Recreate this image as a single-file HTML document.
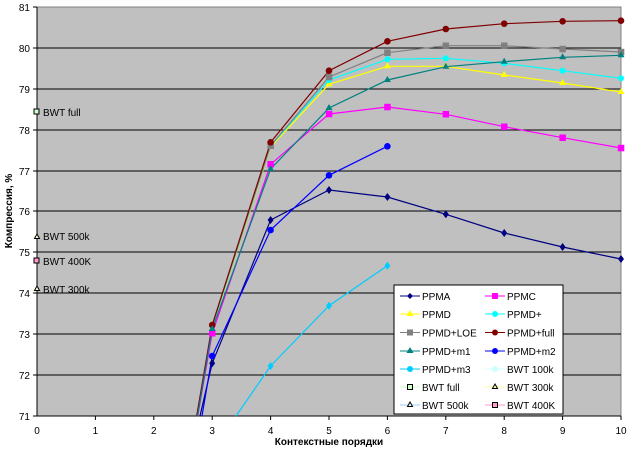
<!DOCTYPE html>
<html><head><meta charset="utf-8"><style>
body{margin:0;background:#fff;}
svg{display:block;font-family:"Liberation Sans",Arial,sans-serif;}
</style></head><body>
<svg width="632" height="449" viewBox="0 0 632 449">
<rect x="37" y="7" width="584" height="409" fill="#c0c0c0" stroke="#808080"/>
<g stroke="#000" stroke-width="1">
<line x1="37" y1="48" x2="621" y2="48"/><line x1="37" y1="89" x2="621" y2="89"/>
<line x1="37" y1="130" x2="621" y2="130"/><line x1="37" y1="171" x2="621" y2="171"/>
<line x1="37" y1="211" x2="621" y2="211"/><line x1="37" y1="252" x2="621" y2="252"/>
<line x1="37" y1="293" x2="621" y2="293"/><line x1="37" y1="334" x2="621" y2="334"/>
<line x1="37" y1="375" x2="621" y2="375"/>
<line x1="37" y1="7" x2="37" y2="416"/><line x1="37" y1="416" x2="621" y2="416"/>
</g>
<g stroke="#000"><line x1="33" y1="7" x2="37" y2="7"/><line x1="33" y1="48" x2="37" y2="48"/><line x1="33" y1="89" x2="37" y2="89"/><line x1="33" y1="130" x2="37" y2="130"/><line x1="33" y1="171" x2="37" y2="171"/><line x1="33" y1="211" x2="37" y2="211"/><line x1="33" y1="252" x2="37" y2="252"/><line x1="33" y1="293" x2="37" y2="293"/><line x1="33" y1="334" x2="37" y2="334"/><line x1="33" y1="375" x2="37" y2="375"/><line x1="33" y1="416" x2="37" y2="416"/>
<line x1="95.4" y1="416" x2="95.4" y2="420"/><line x1="153.8" y1="416" x2="153.8" y2="420"/><line x1="212.2" y1="416" x2="212.2" y2="420"/><line x1="270.6" y1="416" x2="270.6" y2="420"/><line x1="329" y1="416" x2="329" y2="420"/><line x1="387.4" y1="416" x2="387.4" y2="420"/><line x1="445.8" y1="416" x2="445.8" y2="420"/><line x1="504.2" y1="416" x2="504.2" y2="420"/><line x1="562.6" y1="416" x2="562.6" y2="420"/><line x1="621" y1="416" x2="621" y2="420"/></g>
<g font-size="10" text-anchor="end">
<text x="30" y="11">81</text><text x="30" y="52">80</text><text x="30" y="93">79</text><text x="30" y="134">78</text><text x="30" y="175">77</text><text x="30" y="215">76</text><text x="30" y="256">75</text><text x="30" y="297">74</text><text x="30" y="338">73</text><text x="30" y="379">72</text><text x="30" y="420">71</text>
</g>
<g font-size="10" text-anchor="middle">
<text x="37" y="434">0</text><text x="95.4" y="434">1</text><text x="153.8" y="434">2</text><text x="212.2" y="434">3</text><text x="270.6" y="434">4</text><text x="329" y="434">5</text><text x="387.4" y="434">6</text><text x="445.8" y="434">7</text><text x="504.2" y="434">8</text><text x="562.6" y="434">9</text><text x="621" y="434">10</text>
</g>
<text x="329" y="445" font-size="10" font-weight="bold" text-anchor="middle">Контекстные порядки</text>
<text transform="translate(12,211) rotate(-90)" font-size="10" font-weight="bold" text-anchor="middle">Компрессия, %</text>
<g fill="none" stroke-width="1.2">
<polyline stroke="#000080" points="200,416 212.2,363.3 270.6,220 329,190 387.4,197 445.8,214.3 504.2,233 562.6,247 621,259"/>
<polyline stroke="#ff00ff" points="197.7,416 212.2,333.3 270.6,164.3 329,114 387.4,107 445.8,114.3 504.2,126.7 562.6,137.7 621,148"/>
<polyline stroke="#ffff00" points="197,416 212.2,328 270.6,147 329,84.3 387.4,66.3 445.8,66.3 504.2,75 562.6,83 621,92"/>
<polyline stroke="#00ffff" points="197,416 212.2,327 270.6,146 329,80 387.4,59.3 445.8,58.3 504.2,63.3 562.6,70.7 621,78.3"/>
<polyline stroke="#808080" points="196.8,416 212.2,326 270.6,145.7 329,77 387.4,52.7 445.8,45.7 504.2,45.7 562.6,49 621,52"/>
<polyline stroke="#800000" points="196.7,416 212.2,325 270.6,142.3 329,70.7 387.4,41.3 445.8,29 504.2,23.7 562.6,21.3 621,20.7"/>
<polyline stroke="#008080" points="197.5,416 212.2,329 270.6,169 329,108 387.4,80 445.8,66.7 504.2,61.7 562.6,57.3 621,55.3"/>
<polyline stroke="#0000ff" points="202,416 212.2,356 270.6,230 329,175.3 387.4,146.3"/>
<polyline stroke="#00ccff" points="236,416 270.6,366 329,305.7 387.4,265.7"/>
</g>
<g fill="#000080"><path d="M212.2,359.3l3,4l-3,4l-3,-4z"/><path d="M270.6,216l3,4l-3,4l-3,-4z"/><path d="M329,186l3,4l-3,4l-3,-4z"/><path d="M387.4,193l3,4l-3,4l-3,-4z"/><path d="M445.8,210.3l3,4l-3,4l-3,-4z"/><path d="M504.2,229l3,4l-3,4l-3,-4z"/><path d="M562.6,243l3,4l-3,4l-3,-4z"/><path d="M621,255l3,4l-3,4l-3,-4z"/></g>
<g fill="#ff00ff"><rect x="209" y="330" width="6.5" height="6.5"/><rect x="267.4" y="161" width="6.5" height="6.5"/><rect x="325.8" y="110.8" width="6.5" height="6.5"/><rect x="384.2" y="103.8" width="6.5" height="6.5"/><rect x="442.6" y="111" width="6.5" height="6.5"/><rect x="501" y="123.5" width="6.5" height="6.5"/><rect x="559.4" y="134.5" width="6.5" height="6.5"/><rect x="617.8" y="144.8" width="6.5" height="6.5"/></g>
<g fill="#ffff00"><path d="M270.6,143l3.5,6h-7z"/><path d="M329,80.3l3.5,6h-7z"/><path d="M387.4,62.3l3.5,6h-7z"/><path d="M445.8,62.3l3.5,6h-7z"/><path d="M504.2,71l3.5,6h-7z"/><path d="M562.6,79l3.5,6h-7z"/><path d="M621,88l3.5,6h-7z"/></g>
<g fill="#00ffff"><circle cx="329" cy="80" r="3"/><circle cx="387.4" cy="59.3" r="3"/><circle cx="445.8" cy="58.3" r="3"/><circle cx="504.2" cy="63.3" r="3"/><circle cx="562.6" cy="70.7" r="3"/><circle cx="621" cy="78.3" r="3"/></g>
<g fill="#808080"><rect x="267.4" y="142.5" width="6.5" height="6.5"/><rect x="325.8" y="73.8" width="6.5" height="6.5"/><rect x="384.2" y="49.5" width="6.5" height="6.5"/><rect x="442.6" y="42.5" width="6.5" height="6.5"/><rect x="501" y="42.5" width="6.5" height="6.5"/><rect x="559.4" y="45.8" width="6.5" height="6.5"/><rect x="617.8" y="48.8" width="6.5" height="6.5"/></g>
<g fill="#800000"><circle cx="212.2" cy="325" r="3.3"/><circle cx="270.6" cy="142.3" r="3.3"/><circle cx="329" cy="70.7" r="3.3"/><circle cx="387.4" cy="41.3" r="3.3"/><circle cx="445.8" cy="29" r="3.3"/><circle cx="504.2" cy="23.7" r="3.3"/><circle cx="562.6" cy="21.3" r="3.3"/><circle cx="621" cy="20.7" r="3.3"/></g>
<g fill="#008080"><path d="M212.2,325l3.5,6h-7z"/><path d="M270.6,165l3.5,6h-7z"/><path d="M329,104l3.5,6h-7z"/><path d="M387.4,76l3.5,6h-7z"/><path d="M445.8,62.7l3.5,6h-7z"/><path d="M504.2,57.7l3.5,6h-7z"/><path d="M562.6,53.3l3.5,6h-7z"/><path d="M621,51.3l3.5,6h-7z"/></g>
<g fill="#0000ff"><circle cx="212.2" cy="356" r="3.3"/><circle cx="270.6" cy="230" r="3.3"/><circle cx="329" cy="175.3" r="3.3"/><circle cx="387.4" cy="146.3" r="3.3"/></g>
<g fill="#00ccff"><path d="M270.6,362l3,4l-3,4l-3,-4z"/><path d="M329,301.7l3,4l-3,4l-3,-4z"/><path d="M387.4,261.7l3,4l-3,4l-3,-4z"/></g>
<g font-size="10" stroke-width="1">
<rect x="34" y="109" width="5" height="5" fill="#ccffcc" stroke="#000"/><text x="43" y="116">BWT full</text>
<path d="M37,234l2.5,4.5h-5z" fill="#ffffcc" stroke="#000"/><text x="43" y="240">BWT 500k</text>
<rect x="34" y="258" width="5" height="5" fill="#ff99cc" stroke="#000"/><text x="43" y="265">BWT 400K</text>
<path d="M37,286l2.5,4.5h-5z" fill="#ffffcc" stroke="#000"/><text x="43" y="293">BWT 300k</text>
</g>
<rect x="394" y="285" width="169" height="129" fill="#fff" stroke="#000"/>
<g font-size="10">
<line x1="400" y1="296" x2="420" y2="296" stroke="#000080"/><path d="M410,293l3,3l-3,3l-3,-3z" fill="#000080"/><text x="422" y="300">PPMA</text>
<line x1="485" y1="296" x2="505" y2="296" stroke="#ff00ff"/><rect x="492" y="293" width="6" height="6" fill="#ff00ff"/><text x="507" y="300">PPMC</text>
<line x1="400" y1="314" x2="420" y2="314" stroke="#ffff00"/><path d="M410,310l3.5,6h-7z" fill="#ffff00"/><text x="422" y="318">PPMD</text>
<line x1="485" y1="314" x2="505" y2="314" stroke="#00ffff"/><circle cx="495" cy="314" r="3" fill="#00ffff"/><text x="507" y="318">PPMD+</text>
<line x1="400" y1="332.5" x2="420" y2="332.5" stroke="#808080"/><rect x="407" y="329.5" width="6" height="6" fill="#808080"/><text x="422" y="336.5">PPMD+LOE</text>
<line x1="485" y1="332.5" x2="505" y2="332.5" stroke="#800000"/><circle cx="495" cy="332.5" r="3" fill="#800000"/><text x="507" y="336.5">PPMD+full</text>
<line x1="400" y1="351" x2="420" y2="351" stroke="#008080"/><path d="M410,347l3.5,6h-7z" fill="#008080"/><text x="422" y="355">PPMD+m1</text>
<line x1="485" y1="351" x2="505" y2="351" stroke="#0000ff"/><circle cx="495" cy="351" r="3" fill="#0000ff"/><text x="507" y="355">PPMD+m2</text>
<line x1="400" y1="369" x2="420" y2="369" stroke="#00ccff"/><circle cx="410" cy="369" r="3" fill="#00ccff"/><text x="422" y="373">PPMD+m3</text>
<line x1="485" y1="369" x2="505" y2="369" stroke="#ccffff"/><circle cx="495" cy="369" r="3" fill="#ccffff"/><text x="507" y="373">BWT 100k</text>
<line x1="400" y1="387" x2="420" y2="387" stroke="#ccffcc"/><rect x="407.5" y="384.5" width="5" height="5" fill="#ccffcc" stroke="#000"/><text x="422" y="391">BWT full</text>
<line x1="485" y1="387" x2="505" y2="387" stroke="#ffff99"/><path d="M495,384l2.5,4.5h-5z" fill="#ffffcc" stroke="#000"/><text x="507" y="391">BWT 300k</text>
<line x1="400" y1="405" x2="420" y2="405" stroke="#99ccff"/><path d="M410,402l2.5,4.5h-5z" fill="#fff" stroke="#000"/><text x="422" y="409">BWT 500k</text>
<line x1="485" y1="405" x2="505" y2="405" stroke="#ff99cc"/><rect x="492.5" y="402.5" width="5" height="5" fill="#ff99cc" stroke="#000"/><text x="507" y="409">BWT 400K</text>
</g>
</svg>
</body></html>
